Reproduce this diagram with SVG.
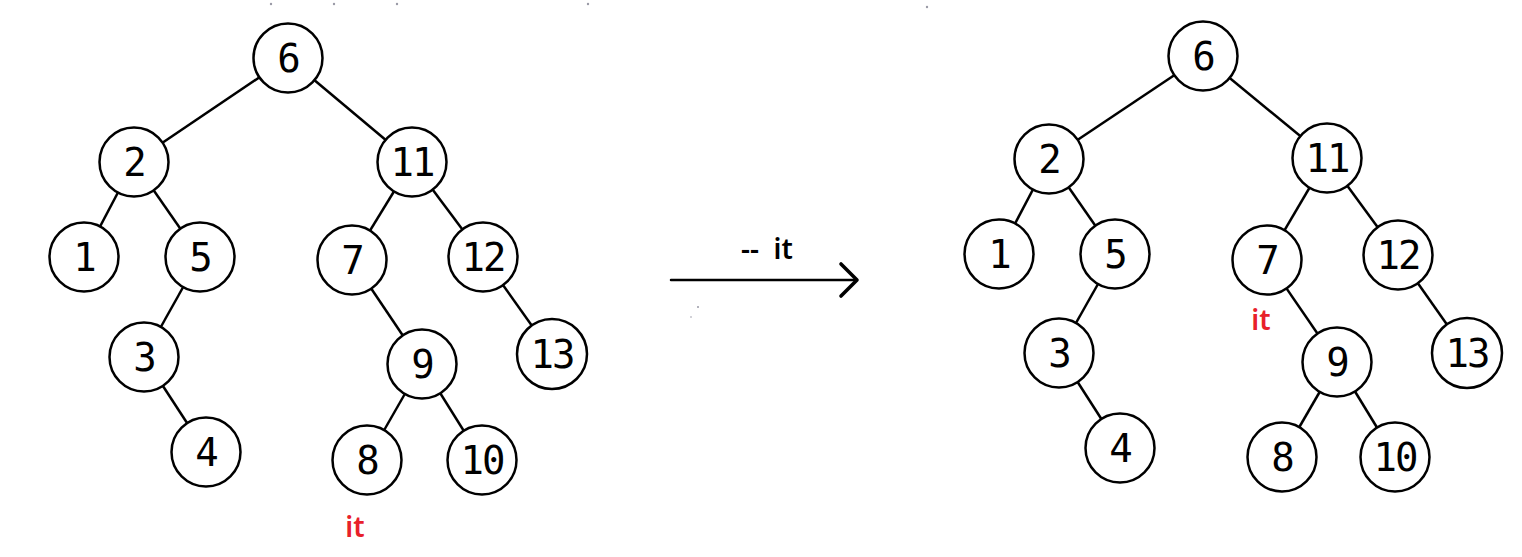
<svg xmlns="http://www.w3.org/2000/svg" width="1522" height="557" viewBox="0 0 1522 557">
<style>
.n circle{fill:#fff;stroke:#000;stroke-width:2.5}
.n text{font-family:"DejaVu Sans Mono","Liberation Mono",monospace;font-size:39px;letter-spacing:-2px;text-anchor:middle;fill:#000}
.e line{stroke:#000;stroke-width:2.5}
.it{font-family:"Noto Sans","Liberation Sans",sans-serif;font-size:28px;font-weight:600;fill:#e8202a;text-anchor:middle}
.lbl{font-family:"Noto Sans","Liberation Sans",sans-serif;font-size:28px;font-weight:600;fill:#000;text-anchor:middle}
.dot{fill:#9a9aa6}
</style>
<rect width="1522" height="557" fill="#fff"/>
<g class="dots">
<circle class="dot" cx="271" cy="4" r="1.2"/><circle class="dot" cx="334" cy="4" r="1.2"/><circle class="dot" cx="397" cy="4" r="1.2"/><circle class="dot" cx="588" cy="4" r="1.2"/><circle class="dot" cx="927" cy="7" r="1.2"/><circle class="dot" cx="698" cy="307" r="1"/><circle class="dot" cx="691" cy="317" r="0.8"/>
</g>
<g id="connectors" class="e">
<line x1="288" y1="58" x2="134" y2="162"/><line x1="288" y1="58" x2="412" y2="162"/>
<line x1="134" y1="162" x2="84" y2="257"/><line x1="134" y1="162" x2="200" y2="257"/>
<line x1="200" y1="257" x2="144" y2="357"/><line x1="144" y1="357" x2="206" y2="452"/>
<line x1="412" y1="162" x2="352" y2="260"/><line x1="412" y1="162" x2="483" y2="257"/>
<line x1="352" y1="260" x2="422" y2="364"/><line x1="483" y1="257" x2="552" y2="354"/>
<line x1="422" y1="364" x2="367" y2="460"/><line x1="422" y1="364" x2="482" y2="460"/>
<line x1="1203" y1="56" x2="1049" y2="159"/><line x1="1203" y1="56" x2="1327" y2="158"/>
<line x1="1049" y1="159" x2="999" y2="254"/><line x1="1049" y1="159" x2="1115" y2="254"/>
<line x1="1115" y1="254" x2="1059" y2="353"/><line x1="1059" y1="353" x2="1120" y2="448"/>
<line x1="1327" y1="158" x2="1267" y2="260"/><line x1="1327" y1="158" x2="1398" y2="255"/>
<line x1="1267" y1="260" x2="1337" y2="362"/><line x1="1398" y1="255" x2="1467" y2="353"/>
<line x1="1337" y1="362" x2="1282" y2="457"/><line x1="1337" y1="362" x2="1395" y2="457"/>
<line x1="671" y1="280" x2="855" y2="280" stroke-width="3.6" stroke-linecap="round"/>
<polyline points="841,264 857,280 841,296" fill="none" stroke="#000" stroke-width="3.6" stroke-linecap="round" stroke-linejoin="round"/>
</g>
<text class="lbl" x="767" y="259" xml:space="preserve">--  it</text>
<g id="L6" class="n"><circle cx="288" cy="58" r="34.5"/><text x="288" y="72">6</text></g>
<g id="L2" class="n"><circle cx="134" cy="162" r="34.5"/><text x="134" y="176">2</text></g>
<g id="L11" class="n"><circle cx="412" cy="162" r="34.5"/><text x="412" y="176">11</text></g>
<g id="L1" class="n"><circle cx="84" cy="257" r="34.5"/><text x="84" y="271">1</text></g>
<g id="L5" class="n"><circle cx="200" cy="257" r="34.5"/><text x="200" y="271">5</text></g>
<g id="L7" class="n"><circle cx="352" cy="260" r="34.5"/><text x="352" y="274">7</text></g>
<g id="L12" class="n"><circle cx="483" cy="257" r="34.5"/><text x="483" y="271">12</text></g>
<g id="L3" class="n"><circle cx="144" cy="357" r="34.5"/><text x="144" y="371">3</text></g>
<g id="L4" class="n"><circle cx="206" cy="452" r="34.5"/><text x="206" y="466">4</text></g>
<g id="L9" class="n"><circle cx="422" cy="364" r="34.5"/><text x="422" y="378">9</text></g>
<g id="L13" class="n"><circle cx="552" cy="354" r="35"/><text x="552" y="368">13</text></g>
<g id="L8" class="n"><circle cx="367" cy="460" r="34.5"/><text x="367" y="474">8</text></g>
<g id="L10" class="n"><circle cx="482" cy="460" r="34.5"/><text x="482" y="474">10</text></g>
<text id="L_it" class="it" x="355" y="537">it</text>
<g id="R6" class="n"><circle cx="1203" cy="56" r="34.5"/><text x="1203" y="70">6</text></g>
<g id="R2" class="n"><circle cx="1049" cy="159" r="34.5"/><text x="1049" y="173">2</text></g>
<g id="R11" class="n"><circle cx="1327" cy="158" r="34.5"/><text x="1327" y="172">11</text></g>
<g id="R1" class="n"><circle cx="999" cy="254" r="34.5"/><text x="999" y="268">1</text></g>
<g id="R5" class="n"><circle cx="1115" cy="254" r="34.5"/><text x="1115" y="268">5</text></g>
<g id="R7" class="n"><circle cx="1267" cy="260" r="34.5"/><text x="1267" y="274">7</text></g>
<g id="R12" class="n"><circle cx="1398" cy="255" r="34.5"/><text x="1398" y="269">12</text></g>
<g id="R3" class="n"><circle cx="1059" cy="353" r="34.5"/><text x="1059" y="367">3</text></g>
<g id="R4" class="n"><circle cx="1120" cy="448" r="34.5"/><text x="1120" y="462">4</text></g>
<g id="R9" class="n"><circle cx="1337" cy="362" r="34.5"/><text x="1337" y="376">9</text></g>
<g id="R13" class="n"><circle cx="1467" cy="353" r="35"/><text x="1467" y="367">13</text></g>
<g id="R8" class="n"><circle cx="1282" cy="457" r="34.5"/><text x="1282" y="471">8</text></g>
<g id="R10" class="n"><circle cx="1395" cy="457" r="34.5"/><text x="1395" y="471">10</text></g>
<text id="R_it" class="it" x="1261" y="330">it</text>
</svg>
